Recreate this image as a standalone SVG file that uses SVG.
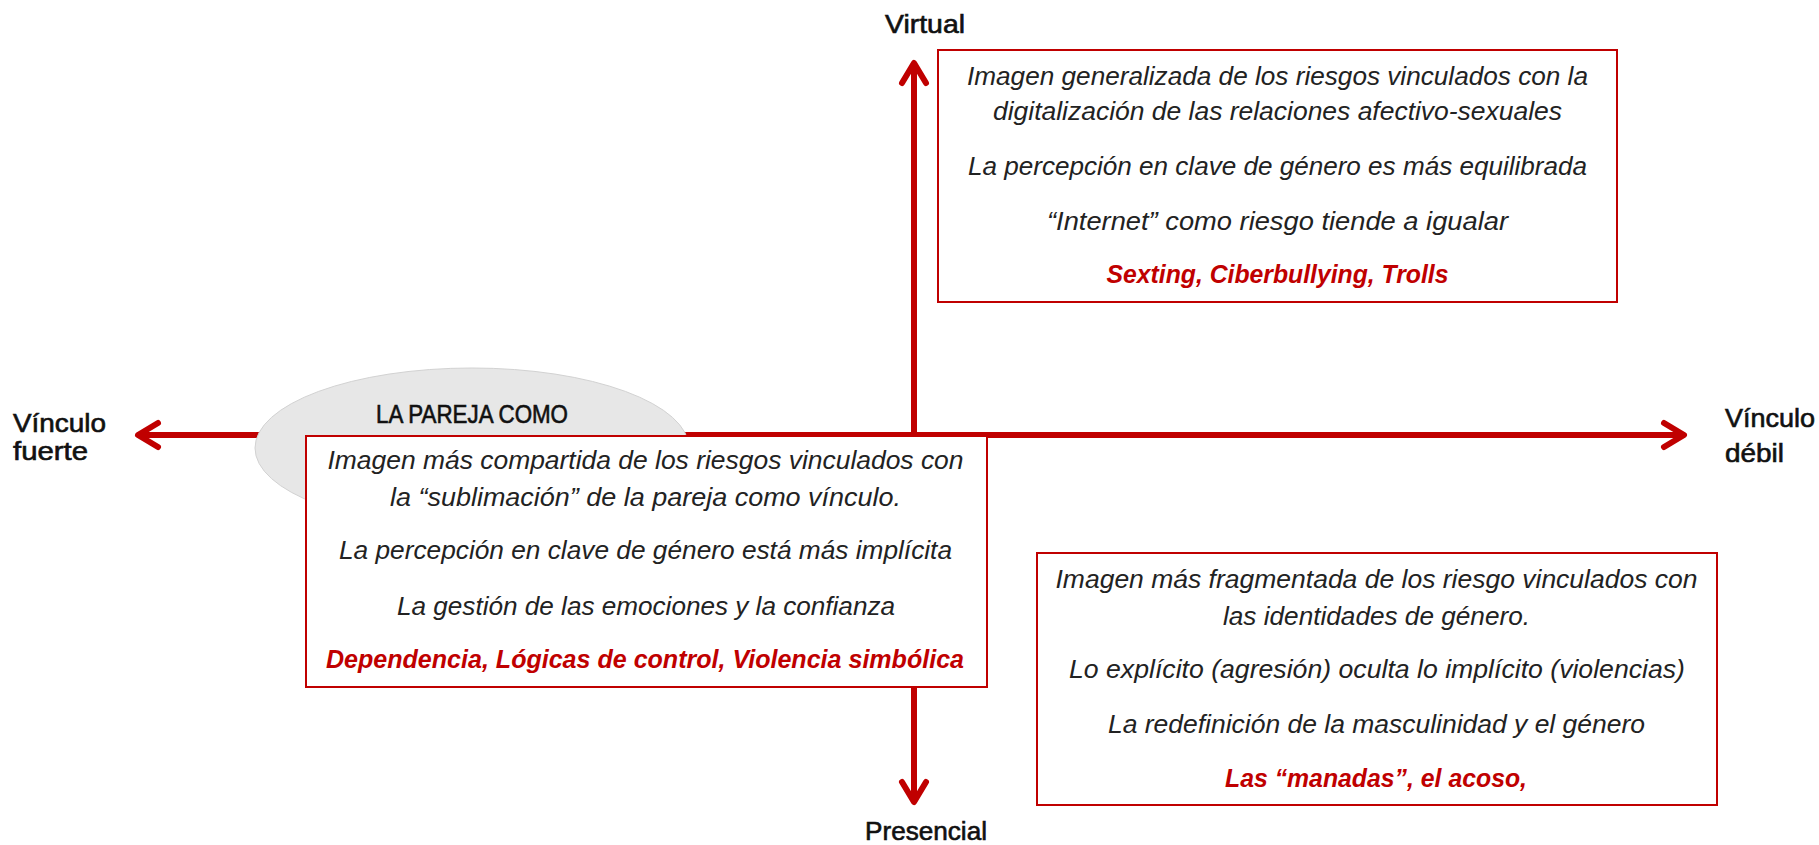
<svg xmlns="http://www.w3.org/2000/svg" width="1819" height="845" viewBox="0 0 1819 845">
  <defs>
    <marker id="chev" viewBox="-30 -20 40 40" refX="0" refY="0" markerWidth="40" markerHeight="40" markerUnits="userSpaceOnUse" orient="auto-start-reverse">
      <path d="M-20,-12 L0,0 L-20,12" fill="none" stroke="#C00000" stroke-width="6" stroke-linecap="round" stroke-linejoin="round"/>
    </marker>
  </defs>
  <style>
    .axis { stroke: #C00000; stroke-width: 6; fill: none; }
    .box { fill: #ffffff; stroke: #C00000; stroke-width: 2; }
    .lbl { font-family: "Liberation Sans", Arial, sans-serif; font-size: 25px; fill: #111111; stroke: #111111; stroke-width: 0.6px; }
    .body { font-family: "Liberation Sans", Arial, sans-serif; font-size: 26px; font-style: italic; fill: #222222; text-anchor: middle; }
    .red { font-family: "Liberation Sans", Arial, sans-serif; font-size: 26px; font-style: italic; font-weight: bold; fill: #C00000; text-anchor: middle; }
  </style>
  <rect x="0" y="0" width="1819" height="845" fill="#ffffff"/>

  <g id="connectors">
    <line class="axis" x1="138" y1="435" x2="1684" y2="435" marker-start="url(#chev)" marker-end="url(#chev)"/>
    <line class="axis" x1="914" y1="802" x2="914" y2="63" marker-start="url(#chev)" marker-end="url(#chev)"/>
  </g>

  <g id="axis-labels">
    <text class="lbl" x="925" y="33" text-anchor="middle" textLength="80" lengthAdjust="spacingAndGlyphs">Virtual</text>
    <text class="lbl" x="926" y="840" text-anchor="middle" textLength="122" lengthAdjust="spacingAndGlyphs">Presencial</text>
    <text class="lbl" x="13" y="432" textLength="93" lengthAdjust="spacingAndGlyphs">Vínculo</text>
    <text class="lbl" x="13" y="460" textLength="75" lengthAdjust="spacingAndGlyphs">fuerte</text>
    <text class="lbl" x="1725" y="427" textLength="90" lengthAdjust="spacingAndGlyphs">Vínculo</text>
    <text class="lbl" x="1725" y="462" textLength="59" lengthAdjust="spacingAndGlyphs">débil</text>
  </g>

  <g id="node-virtual">
    <rect class="box" x="938" y="50" width="679" height="252"/>
    <text class="body" x="1277.5" y="85" textLength="621" lengthAdjust="spacingAndGlyphs">Imagen generalizada de los riesgos vinculados con la</text>
    <text class="body" x="1277.5" y="120" textLength="569" lengthAdjust="spacingAndGlyphs">digitalización de las relaciones afectivo-sexuales</text>
    <text class="body" x="1277.5" y="175" textLength="619" lengthAdjust="spacingAndGlyphs">La percepción en clave de género es más equilibrada</text>
    <text class="body" x="1277.5" y="230" textLength="461" lengthAdjust="spacingAndGlyphs">“Internet” como riesgo tiende a igualar</text>
    <text class="red" x="1277.5" y="283" textLength="342" lengthAdjust="spacingAndGlyphs">Sexting, Ciberbullying, Trolls</text>
  </g>

  <g id="node-pareja">
    <ellipse cx="472" cy="448" rx="217" ry="80" fill="#e7e7e7" stroke="#d2d2d2" stroke-width="1"/>
    <text class="lbl" x="376" y="423" font-size="21" textLength="192" lengthAdjust="spacingAndGlyphs">LA PAREJA COMO</text>
    <rect class="box" x="306" y="436" width="681" height="251"/>
    <text class="body" x="645.5" y="469" textLength="636" lengthAdjust="spacingAndGlyphs">Imagen más compartida de los riesgos vinculados con</text>
    <text class="body" x="645.5" y="506" textLength="511" lengthAdjust="spacingAndGlyphs">la “sublimación” de la pareja como vínculo.</text>
    <text class="body" x="645.5" y="559" textLength="613" lengthAdjust="spacingAndGlyphs">La percepción en clave de género está más implícita</text>
    <text class="body" x="646" y="615" textLength="498" lengthAdjust="spacingAndGlyphs">La gestión de las emociones y la confianza</text>
    <text class="red" x="645" y="668" textLength="638" lengthAdjust="spacingAndGlyphs">Dependencia, Lógicas de control, Violencia simbólica</text>
  </g>

  <g id="node-presencial">
    <rect class="box" x="1037" y="553" width="680" height="252"/>
    <text class="body" x="1376.5" y="588" textLength="642" lengthAdjust="spacingAndGlyphs">Imagen más fragmentada de los riesgo vinculados con</text>
    <text class="body" x="1376.5" y="625" textLength="307" lengthAdjust="spacingAndGlyphs">las identidades de género.</text>
    <text class="body" x="1377" y="678" textLength="616" lengthAdjust="spacingAndGlyphs">Lo explícito (agresión) oculta lo implícito (violencias)</text>
    <text class="body" x="1376.5" y="733" textLength="537" lengthAdjust="spacingAndGlyphs">La redefinición de la masculinidad y el género</text>
    <text class="red" x="1376" y="787" textLength="302" lengthAdjust="spacingAndGlyphs">Las “manadas”, el acoso,</text>
  </g>
</svg>
